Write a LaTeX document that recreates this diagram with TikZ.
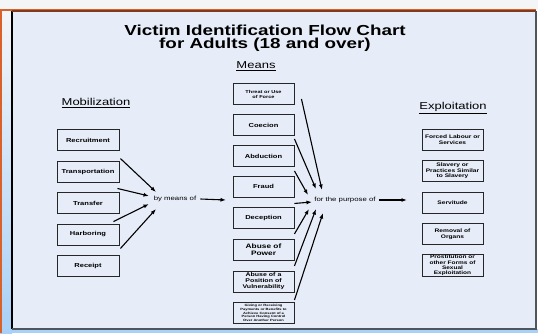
\documentclass[tikz,border=0pt]{standalone}
\usepackage{fontspec}
\setmainfont{Liberation Sans}[FakeStretch=1.3]
\usetikzlibrary{arrows.meta}
\definecolor{panel}{HTML}{E7EDF8}
\definecolor{band}{HTML}{F4F5F7}
\definecolor{skyblue}{HTML}{A9D0F6}
\definecolor{rust}{HTML}{D9622B}
\definecolor{edgegray}{HTML}{4F555C}
\begin{document}
\begin{tikzpicture}[x=1pt, y=-1pt,
    mbox/.style = {draw=black!85,
                   line width=0.9pt,
                   fill=panel,
                   minimum width=61pt,
                   minimum height=21pt,
                   inner sep=0.5pt,
                   align=center,
                   font=\bfseries\fontsize{5.8}{6.5}\selectfont},
    head/.style = {font=\fontsize{10}{12}\selectfont},
    word/.style = {font=\fontsize{6}{7}\selectfont, inner sep=1pt},
    link/.style = {-{Latex[length=5.5pt,width=4pt]}, line width=1.1pt}]
    \useasboundingbox (0,0) rectangle (538,333);
    % slide background
    \fill[band] (0,0) rectangle (538,10);
    \shade[top color=band, bottom color=skyblue] (0,10) rectangle (12,333);
    \fill[skyblue] (0,329) rectangle (538,333);
    \draw[rust, line width=1.2pt] (1,333) -- (1,10) -- (536,10);
    \fill[panel] (12,11) rectangle (536,329);
    \draw[black, line width=1.2pt] (12,11) -- (12,329);
    \draw[rust!60!black, line width=1.5pt] (12,11) -- (536,11);
    \draw[edgegray, line width=2.5pt] (536,11) -- (536,329);
    \draw[edgegray, line width=1.5pt] (12,329) -- (537,329);
    % titles
    \node[font=\bfseries\fontsize{14.5}{16}\selectfont] (title) at (265,30) {Victim Identification Flow Chart};
    \node[font=\bfseries\fontsize{14.5}{16}\selectfont] (sub) at (265,45) {for Adults (18 and over)};
    \node[head] (means) at (256,66) {\underline{Means}};
    \node[head] (mob) at (96,103) {\underline{Mobilization}};
    \node[head] (expl) at (453,108) {\underline{Exploitation}};
    % mobilization
    \node[mbox, minimum width=62pt] (rec) at (88,140) {Recruitment};
    \node[mbox, minimum width=62pt] (trans) at (88,171.5) {Transportation};
    \node[mbox, minimum width=62pt] (transf) at (88,203) {Transfer};
    \node[mbox, minimum width=62pt] (harb) at (88,234.5) {Harboring};
    \node[mbox, minimum width=62pt] (recp) at (88,266) {Receipt};
    \node[word] (bymeans) at (175,199) {by means of};
    % means
    \node[mbox, font=\bfseries\fontsize{4.3}{5}\selectfont] (threat) at (263.5,94) {Threat or Use\\of Force};
    \node[mbox] (coec) at (263.5,125) {Coecion};
    \node[mbox] (abd) at (263.5,156) {Abduction};
    \node[mbox] (fraud) at (263.5,186.5) {Fraud};
    \node[mbox] (dec) at (263.5,218) {Deception};
    \node[mbox, font=\bfseries\fontsize{6.4}{7.2}\selectfont] (power) at (263.5,250) {Abuse of\\Power};
    \node[mbox, font=\bfseries\fontsize{5.4}{6}\selectfont] (vuln) at (263.5,281.5) {Abuse of a\\Position of\\Vulnerability};
    \node[mbox, font=\bfseries\fontsize{3.1}{3.6}\selectfont] (pay) at (263.5,313) {Giving or Receiving\\Payments or Benefits to\\Achieve Consent of a\\Person Having Control\\Over Another Person};
    \node[word] (purpose) at (345,200) {for the purpose of};
    % exploitation
    \node[mbox, font=\bfseries\fontsize{5.1}{5.6}\selectfont] (labour) at (452.5,139.5) {Forced Labour or\\Services};
    \node[mbox, font=\bfseries\fontsize{5.1}{5.4}\selectfont] (slav) at (452.5,171) {Slavery or\\Practices Similar\\to Slavery};
    \node[mbox, font=\bfseries\fontsize{5.1}{5.6}\selectfont] (serv) at (452.5,202.5) {Servitude};
    \node[mbox, font=\bfseries\fontsize{5.1}{5.6}\selectfont] (organ) at (452.5,234) {Removal of\\Organs};
    \node[mbox, font=\bfseries\fontsize{5}{5.2}\selectfont] (prost) at (452.5,265.5) {Prostitution or\\other Forms of\\Sexual\\Exploitation};
    % arrow ends
    \coordinate (b1) at (156,192);
    \coordinate (b2) at (149,196);
    \coordinate (b3) at (149,204);
    \coordinate (b4) at (156,209);
    \coordinate (bout) at (226,200);
    \coordinate (p1) at (322,190);
    \coordinate (p2) at (316,189);
    \coordinate (p3) at (308,195);
    \coordinate (p4) at (312,202);
    \coordinate (p5) at (309,209);
    \coordinate (p6) at (316,209);
    \coordinate (p7) at (323,213);
    \coordinate (pout) at (407,200);
    \path[link] ([shift={(1,-2)}]trans.north east) edge (b1);
    \path[link] ([shift={(-2,6)}]trans.south east) edge (b2);
    \path[link] ([shift={(-6,-2)}]harb.north east) edge (b3);
    \path[link] ([shift={(1,3)}]harb.south east) edge (b4);
    \path[link] ([xshift=3pt]bymeans.east) edge (bout);
    \path[link] ([shift={(7,-6)}]threat.south east) edge (p1);
    \path[link] ([shift={(0,3)}]coec.south east) edge (p2);
    \path[link] ([shift={(0,4)}]abd.south east) edge (p3);
    \path[link] ([shift={(0,6)}]fraud.south east) edge (p4);
    \path[link] ([shift={(0,5)}]dec.south east) edge (p5);
    \path[link] ([shift={(0,5)}]power.south east) edge (p6);
    \path[link] ([shift={(0,-2)}]pay.north east) edge (p7);
    \path[link] ([xshift=2pt]purpose.east) edge (pout);
\end{tikzpicture}
\end{document}
